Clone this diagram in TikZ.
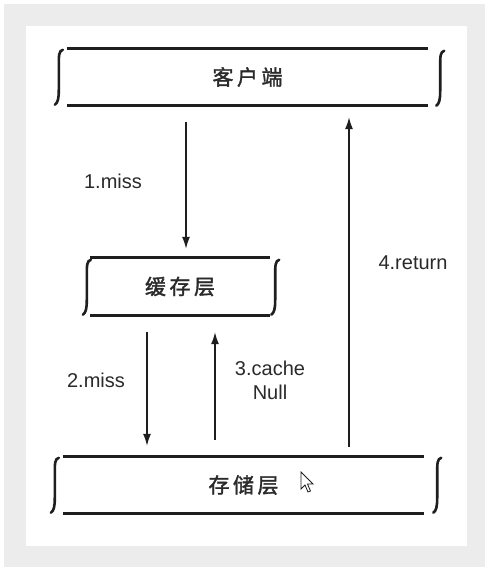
\documentclass[tikz,border=0pt]{standalone}
\usepackage{fontspec}
\setmainfont{Liberation Sans}
\newfontfamily\cjk[FakeBold=1.6]{Noto Sans CJK SC}
\usetikzlibrary{arrows.meta,calc}
\definecolor{bggray}{HTML}{ECECEC}
\definecolor{ink}{HTML}{1E1E1E}
\definecolor{labelgray}{HTML}{2A2A2A}

% curly side mark of a layer, #1 = top of its vertical part
\newcommand{\sidecurl}[1]{%
  \begin{scope}[shift={#1}]
    \draw[curlline] (4,0) .. controls (0,1) and (0,6) .. (0,15) -- (0,40) .. controls (0,49) and (-1,53) .. (-4,55);
  \end{scope}}

\begin{document}
\begin{tikzpicture}[x=1pt, y=-1pt,
    >={Latex[length=12pt,width=8pt]},
    layerbox/.style={minimum height=56pt, inner sep=0pt, text=labelgray,
      font=\cjk\fontsize{21}{21}\selectfont},
    boxrule/.style={line width=3pt, ink},
    curlline/.style={line width=2.6pt, ink, line cap=round},
    flowarrow/.style={->, line width=1.3pt, ink},
    steplabel/.style={font=\fontsize{20}{24}\selectfont, text=labelgray, align=center}]
    \useasboundingbox (0,0) rectangle (487,569);

    % Background
    \fill[bggray] (4,4) rectangle (485,567);
    \fill[white] (26,26) rectangle (467,546);

    % Layers
    \node[layerbox, minimum width=361pt] (client) at (247.5,77) {客\,户\,端};
    \node[layerbox, minimum width=180pt, minimum height=57pt] (cache) at (180,286.5) {缓\,存\,层};
    \node[layerbox, minimum width=361pt] (storage) at (243.5,485) {存\,储\,层};

    \foreach \n in {client,cache,storage} {
      \draw[boxrule] (\n.north west) -- (\n.north east);
      \draw[boxrule] (\n.south west) -- (\n.south east);
    }

    % Side curls
    \sidecurl{([xshift=-8pt,yshift=-1pt]client.north west)}
    \sidecurl{([xshift=12pt,yshift=-2pt]client.north east)}
    \sidecurl{([xshift=-3pt,yshift=-2pt]cache.north west)}
    \sidecurl{([xshift=5pt,yshift=-2pt]cache.north east)}
    \sidecurl{([xshift=-8pt,yshift=-1pt]storage.north west)}
    \sidecurl{([xshift=13pt,yshift=-1pt]storage.north east)}

    % Arrows
    \draw[flowarrow] ($(cache.north |- client.south)+(6,17)$) -- ($(cache.north)+(6,-9)$);
    \draw[flowarrow] ($(cache.south)+(-33,17)$) -- ($(cache.south |- storage.north)+(-33,-11)$);
    \draw[flowarrow] ($(cache.south |- storage.north)+(35,-17)$) -- ($(cache.south)+(35,17)$);
    \draw[flowarrow] ($(storage.north)+(105.5,-10)$) -- ($(storage.north |- client.south)+(105.5,12)$);

    % Labels
    \node[steplabel] (miss1) at (113,181) {1.miss};
    \node[steplabel] (miss2) at (96,380) {2.miss};
    \node[steplabel] (cachenull) at (270,380) {3.cache\\Null};
    \node[steplabel] (ret) at (413,263) {4.return};

    % Mouse pointer
    \draw[ink, fill=white, line width=0.8pt] (301,472) -- (301,489) -- (305,485) -- (308,492)
      -- (310.5,491) -- (307.5,484) -- (313,484) -- cycle;
\end{tikzpicture}
\end{document}
